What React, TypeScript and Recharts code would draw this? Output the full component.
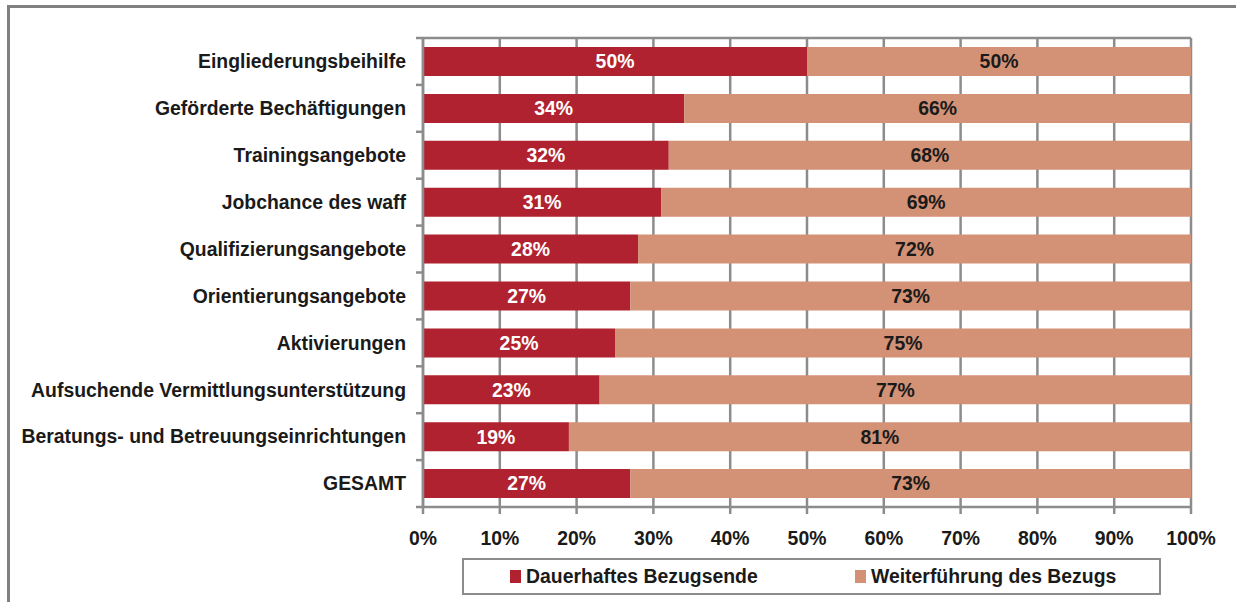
import { BarChart, Bar, XAxis, YAxis, CartesianGrid, LabelList } from "recharts";

const CATEGORIES = [
  "Eingliederungsbeihilfe",
  "Geförderte Bechäftigungen",
  "Trainingsangebote",
  "Jobchance des waff",
  "Qualifizierungsangebote",
  "Orientierungsangebote",
  "Aktivierungen",
  "Aufsuchende Vermittlungsunterstützung",
  "Beratungs- und Betreuungseinrichtungen",
  "GESAMT",
];
const ENDE = [50, 34, 32, 31, 28, 27, 25, 23, 19, 27];
const WEITER = [50, 66, 68, 69, 72, 73, 75, 77, 81, 73];
const X_TICKS = [0, 10, 20, 30, 40, 50, 60, 70, 80, 90, 100];

const RED = "#B0222F";
const SALMON = "#D39175";
const GRID = "#8C8C8C";
const FONT = "'Liberation Sans', Arial, sans-serif";
const FS = 19.4;

const W = 1236;
const H = 602;
const TOP = 38;
const BOTTOM_PLOT = 507;
const AXIS_X = 423;
const BAND = (BOTTOM_PLOT - TOP) / CATEGORIES.length;

const data = CATEGORIES.map((name, i) => ({ name, ende: ENDE[i], weiter: WEITER[i] }));

function CategoryTick(props: any) {
  const { y, payload, index } = props;
  return (
    <g>
      <text
        x={AXIS_X - 17}
        y={y}
        dy="0.35em"
        textAnchor="end"
        fill="#1a1a1a"
        fontFamily={FONT}
        fontWeight="bold"
        fontSize={FS}
      >
        {payload.value}
      </text>
      <line x1={AXIS_X - 7} x2={AXIS_X} y1={y + BAND / 2} y2={y + BAND / 2} stroke={GRID} strokeWidth={2.5} />
      {index === 0 && (
        <line x1={AXIS_X - 7} x2={AXIS_X} y1={y - BAND / 2} y2={y - BAND / 2} stroke={GRID} strokeWidth={2.5} />
      )}
    </g>
  );
}

function LegendBox() {
  const item = (color: string, label: string) => (
    <div style={{ display: "flex", alignItems: "center", whiteSpace: "nowrap" }}>
      <span style={{ flexShrink: 0, display: "inline-block", width: 11, height: 13, background: color, marginRight: 5 }} />
      <span>{label}</span>
    </div>
  );
  return (
    <div
      style={{
        position: "absolute",
        left: 462,
        top: 558,
        boxSizing: "border-box",
        width: 699,
        height: 37,
        border: "2px solid #8C8C8C",
        display: "flex",
        alignItems: "center",
        paddingLeft: 46,
        fontFamily: FONT,
        fontWeight: "bold",
        fontSize: FS,
        color: "#1a1a1a",
      }}
    >
      <div style={{ width: 345, flexShrink: 0 }}>{item(RED, "Dauerhaftes Bezugsende")}</div>
      {item(SALMON, "Weiterführung des Bezugs")}
    </div>
  );
}

export default function App() {
  return (
    <div style={{ position: "fixed", left: 0, top: 0, width: W, height: H, overflow: "hidden", background: "#fff" }}>
      <div
        style={{
          position: "absolute",
          left: 7,
          top: 5,
          width: 1400,
          height: 800,
          border: "3px solid #808080",
        }}
      />
      <div style={{ position: "absolute", left: 0, top: 0 }}>
        <BarChart
          width={W}
          height={H}
          data={data}
          layout="vertical"
          margin={{ top: TOP, right: W - 1191, left: 0, bottom: H - BOTTOM_PLOT - 40 }}
          barSize={29}
        >
          <CartesianGrid
            vertical={true}
            horizontal={true}
            horizontalPoints={[TOP]}
            stroke={GRID}
            strokeWidth={2.5}
            strokeDasharray="0"
          />
          <XAxis
            type="number"
            domain={[0, 100]}
            ticks={X_TICKS}
            interval={0}
            tickFormatter={(v: number) => `${v}%`}
            axisLine={{ stroke: GRID, strokeWidth: 2.5 }}
            tickLine={{ stroke: GRID, strokeWidth: 2.5 }}
            tickSize={7}
            tickMargin={17}
            height={40}
            tick={{ fill: "#1a1a1a", fontFamily: FONT, fontWeight: "bold", fontSize: FS }}
          />
          <YAxis
            type="category"
            dataKey="name"
            width={AXIS_X}
            interval={0}
            axisLine={{ stroke: GRID, strokeWidth: 2.5 }}
            tickLine={false}
            tick={<CategoryTick />}
          />
          <Bar dataKey="ende" name="Dauerhaftes Bezugsende" stackId="a" fill={RED} isAnimationActive={false}>
            <LabelList
              dataKey="ende"
              position="center"
              formatter={(v: number) => `${v}%`}
              fill="#ffffff"
              fontFamily={FONT}
              fontWeight="bold"
              fontSize={FS}
            />
          </Bar>
          <Bar dataKey="weiter" name="Weiterführung des Bezugs" stackId="a" fill={SALMON} isAnimationActive={false}>
            <LabelList
              dataKey="weiter"
              position="center"
              formatter={(v: number) => `${v}%`}
              fill="#1a1a1a"
              fontFamily={FONT}
              fontWeight="bold"
              fontSize={FS}
            />
          </Bar>
        </BarChart>
      </div>
      <LegendBox />
    </div>
  );
}
